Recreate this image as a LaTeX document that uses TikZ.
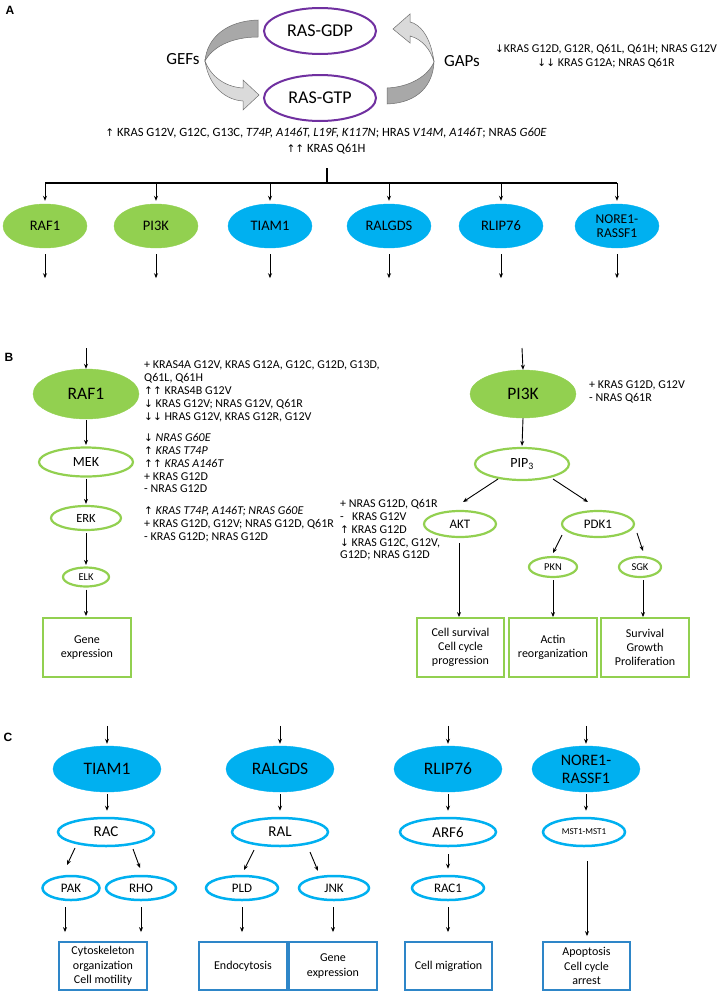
\documentclass[tikz,border=0pt]{standalone}
\usepackage{fontspec}
\setmainfont{Carlito}
\newfontfamily\symf{DejaVu Sans}
\newfontfamily\labf{Liberation Sans}
\usetikzlibrary{shapes.geometric,arrows.meta,calc}
\definecolor{rasgreen}{RGB}{146,208,80}
\definecolor{rasblue}{RGB}{0,176,240}
\definecolor{boxblue}{RGB}{46,134,200}
\definecolor{raspurple}{RGB}{112,48,160}
\definecolor{darkg}{RGB}{168,168,168}
\definecolor{lightg}{RGB}{218,218,218}
\definecolor{edgeg}{RGB}{110,110,110}
\newcommand\UA{{\symf\fontsize{10.5}{10.5}\selectfont ↑}}
\newcommand\DA{{\symf\fontsize{10.5}{10.5}\selectfont ↓}}
\begin{document}
\begin{tikzpicture}[x=1pt,y=-1pt,
  every node/.style={inner sep=0pt},
  sz/.style 2 args={minimum width=#1pt, minimum height=#2pt},
  fs/.style={font=\fontsize{#1}{#1}\selectfont},
  arr/.style={draw=black, line width=0.9pt, -{Stealth[length=5pt,width=4pt]}},
  gfill/.style={ellipse, fill=rasgreen, draw=rasgreen},
  bfill/.style={ellipse, fill=rasblue, draw=rasblue},
  gring/.style={ellipse, draw=rasgreen, line width=2.2pt, fill=white},
  bring/.style={ellipse, draw=rasblue, line width=2.5pt, fill=white},
  rasell/.style={ellipse, draw=raspurple, line width=2pt, fill=white, font=\fontsize{18}{18}\selectfont},
  gbox/.style={rectangle, draw=rasgreen, line width=1.8pt, align=center, font=\fontsize{12}{14.3}\selectfont},
  bbox/.style={rectangle, draw=boxblue, line width=1.8pt, align=center, font=\fontsize{12}{14.3}\selectfont},
  note/.style={align=left, anchor=north west, font=\fontsize{12}{12.9}\selectfont},
  seclab/.style={font=\labf\bfseries\fontsize{12}{12}\selectfont},
  curvearrow/.style={draw=edgeg, line width=0.5pt},
  tree/.style={draw=black, line width=1.1pt}
  ]
\useasboundingbox (0,0) rectangle (720,991);

% ---------------- A ----------------
\node[seclab] (labA) at (10,10) {A};
\node[rasell, sz={112}{46}] (gdp) at (320,31) {RAS-GDP};
\node[rasell, sz={112}{46}] (gtp) at (320,98) {RAS-GTP};

% left curved arrow (GEFs)
\filldraw[curvearrow, fill=darkg] (258,20) .. controls (226,21) and (207,38) .. (205,61)
   .. controls (212,48) and (230,37) .. (258,37) -- cycle;
\filldraw[curvearrow, fill=lightg] (205,61) .. controls (209,87) and (226,100) .. (243,101)
   -- (243,110) -- (259,95) -- (243,80) -- (243,88)
   .. controls (224,87) and (210,75) .. (205,61) -- cycle;
% right curved arrow (GAPs)
\filldraw[curvearrow, fill=darkg] (387,104) .. controls (418,103) and (433,85) .. (434,62)
   .. controls (428,76) and (410,87) .. (387,88) -- cycle;
\filldraw[curvearrow, fill=lightg] (434,62) .. controls (431,37) and (420,24) .. (410,22)
   -- (410,14) -- (393,29) -- (410,43) -- (410,36)
   .. controls (422,39) and (431,50) .. (434,62) -- cycle;

\node[fs=17] (gefs) at (183,59) {GEFs};
\node[fs=17] (gaps) at (462,61) {GAPs};
\node[align=center, font=\fontsize{12}{13.5}\selectfont] (gapnote) at (606,56)
  {\DA KRAS G12D, G12R, Q61L, Q61H; NRAS G12V\\\DA\DA\ KRAS G12A; NRAS Q61R};
\node[align=center, font=\fontsize{12.6}{16.5}\selectfont] (gtpnote) at (326,141)
  {\UA\ KRAS G12V, G12C, G13C, \textit{T74P, A146T, L19F, K117N}; HRAS \textit{V14M, A146T}; NRAS \textit{G60E}\\\UA\UA\ KRAS Q61H};

% tree
\coordinate (tv1) at (327,168);
\coordinate (tv2) at (327,183);
\coordinate (hl) at (45,183);
\coordinate (hr) at (617,183);
\draw[tree] (tv1) -- (tv2);
\draw[tree] (hl) -- (hr);

\node[gfill, sz={84}{44}, fs=14.5] (tRAF) at (45,226) {RAF1};
\node[gfill, sz={84}{44}, fs=14.5] (tPI) at (156,226) {PI3K};
\node[bfill, sz={84}{44}, fs=14.5] (tTI) at (270,226) {TIAM1};
\node[bfill, sz={84}{44}, fs=14.5] (tRA) at (389,226) {RALGDS};
\node[bfill, sz={84}{44}, fs=14.5] (tRL) at (501,226) {RLIP76};
\node[bfill, sz={84}{44}, align=center, font=\fontsize{13.5}{14}\selectfont] (tNO) at (617,226) {NORE1-\\RASSF1};

\foreach \n in {tRAF,tPI,tTI,tRA,tRL,tNO}{
  \draw[arr, shorten >=3pt] (\n.north |- hl) -- (\n.north);
  \draw[arr] ($(\n.south)+(0,6)$) -- ($(\n.south)+(0,30)$);
}

% ---------------- B ----------------
\node[seclab] (labB) at (9,357) {B};
\coordinate (rafin) at (86,348);
\node[gfill, sz={106}{50}, fs=17.5] (raf) at (86,394) {RAF1};
\node[gring, sz={94}{29}, fs=14] (mek) at (86,462) {MEK};
\node[gring, sz={70}{24}, fs=12.5] (erk) at (86,518) {ERK};
\node[gring, sz={46}{19}, fs=10.5] (elk) at (86,577) {ELK};
\node[gbox, sz={88}{59}] (gene1) at (87,647.5) {Gene\\expression};
\draw[arr] (rafin) -- (raf.north);
\draw[arr, shorten <=1pt, shorten >=1.5pt] (raf.south) -- (mek.north);
\draw[arr, shorten <=1pt, shorten >=1pt] (mek.south) -- (erk.north);
\draw[arr, shorten <=2pt, shorten >=1.5pt] (erk.south) -- (elk.north);
\draw[arr, shorten <=2pt, shorten >=1pt] (elk.south) -- (elk.south |- gene1.north);

\node[note] (n1) at (144,361) {+ KRAS4A G12V, KRAS G12A, G12C, G12D, G13D,\\Q61L, Q61H\\\UA\UA\ KRAS4B G12V\\\DA\ KRAS G12V; NRAS G12V, Q61R\\\DA\DA\ HRAS G12V, KRAS G12R, G12V};
\node[note] (n2) at (144,433) {\DA\ \textit{NRAS G60E}\\\UA\ \textit{KRAS T74P}\\\UA\UA\ \textit{KRAS A146T}\\+ KRAS G12D\\- NRAS G12D};
\node[note] (n3) at (144,506) {\UA\ \textit{KRAS T74P, A146T; NRAS G60E}\\+ KRAS G12D, G12V; NRAS G12D, Q61R\\- KRAS G12D; NRAS G12D};

\coordinate (pin) at (522,348);
\node[gfill, sz={106}{48}, fs=17.5] (pi3k) at (523,394) {PI3K};
\node[note] (n4) at (589,381) {+ KRAS G12D, G12V\\- NRAS Q61R};
\node[gring, sz={94}{32}, fs=14] (pip) at (522,464) {PIP\textsubscript{3}};
\node[gring, sz={72}{26}, fs=13] (akt) at (460,524) {AKT};
\node[gring, sz={72}{26}, fs=13] (pdk) at (598,524) {PDK1};
\node[gring, sz={48}{20}, fs=10.5] (pkn) at (553,567) {PKN};
\node[gring, sz={42}{20}, fs=10.5] (sgk) at (640,567) {SGK};
\node[note] (n5) at (340,499) {+ NRAS G12D, Q61R\\-\ \ \ KRAS G12V\\\UA\ KRAS G12D\\\DA\ KRAS G12C, G12V,\\G12D; NRAS G12D};
\node[gbox, sz={87}{59}] (box1) at (460.5,647.5) {Cell survival\\Cell cycle\\progression};
\node[gbox, sz={88}{59}] (box2) at (553,647.5) {Actin\\reorganization};
\node[gbox, sz={88}{59}] (box3) at (645,647.5) {Survival\\Growth\\Proliferation};

\draw[arr] (pin) -- (pi3k.north);
\draw[arr, shorten >=1pt] (pi3k.south) -- (pip.north);
\draw[arr] ($(pip.center)+(-24,15)$) -- ($(akt.center)+(3,-22)$);
\draw[arr] ($(pip.center)+(31,15)$) -- ($(pdk.center)+(-10,-22)$);
\draw[arr] ($(pdk.center)+(-36,11)$) -- ($(pkn.center)+(0,-14)$);
\draw[arr] ($(pdk.center)+(39,9)$) -- ($(sgk.center)+(3,-16)$);
\draw[arr] ($(akt.south)+(-1,5)$) -- ($(akt.south |- box1.north)+(-1,0)$);
\draw[arr] ($(pkn.south)+(0,2)$) -- (pkn.south |- box2.north);
\draw[arr] ($(sgk.south)+(3,2)$) -- ($(sgk.south |- box3.north)+(3,0)$);

% ---------------- C ----------------
\node[seclab] (labC) at (8,737) {C};
\node[bfill, sz={108}{46}, fs=17.5] (cT) at (107,769) {TIAM1};
\node[bfill, sz={108}{46}, fs=17.5] (cR) at (280,769) {RALGDS};
\node[bfill, sz={108}{46}, fs=17.5] (cL) at (448,769) {RLIP76};
\node[bfill, sz={108}{46}, align=center, font=\fontsize{16}{18}\selectfont] (cN) at (586,769) {NORE1-\\RASSF1};
\foreach \n in {cT,cR,cL,cN}{
  \coordinate (\n in) at ($(\n.north)+(0,-20)$);
  \draw[arr, shorten >=2pt] (\n in) -- (\n.north);
}
\node[bring, sz={96}{28}, fs=15] (rac) at (106,832) {RAC};
\node[bring, sz={96}{28}, fs=15] (ral) at (280,832) {RAL};
\node[bring, sz={96}{28}, fs=15] (arf) at (448,832) {ARF6};
\node[bring, sz={82}{28}, fs=9] (mst) at (584,832) {MST1-MST1};
\draw[arr, shorten <=2pt, shorten >=6pt] (cT.south) -- (cT.south |- rac.north);
\draw[arr, shorten <=2pt, shorten >=6pt] (cR.south) -- (cR.south |- ral.north);
\draw[arr, shorten <=2pt, shorten >=6pt] (cL.south) -- (cL.south |- arf.north);
\draw[arr, shorten <=2pt, shorten >=6pt] (cN.south) -- (cN.south |- mst.north);

\node[bring, sz={57}{24}, fs=13] (pak) at (71,888) {PAK};
\node[bring, sz={70}{24}, fs=13] (rho) at (141,888) {RHO};
\node[bring, sz={72}{24}, fs=13] (pld) at (242,888) {PLD};
\node[bring, sz={70}{24}, fs=13] (jnk) at (334,888) {JNK};
\node[bring, sz={72}{24}, fs=13] (rac1) at (448,888) {RAC1};
\draw[arr] ($(rac.center)+(-31,16)$) -- ($(pak.center)+(-4,-23)$);
\draw[arr] ($(rac.center)+(27,17)$) -- ($(rho.center)+(-1,-20)$);
\draw[arr] ($(ral.center)+(-26,18)$) -- ($(pld.center)+(2,-18)$);
\draw[arr] ($(ral.center)+(30,20)$) -- ($(jnk.center)+(-16,-17)$);
\draw[arr, shorten <=7pt, shorten >=6pt] (arf.south) -- (rac1.north);

\node[bbox, sz={88}{48}] (bx1) at (103,966) {Cytoskeleton\\organization\\Cell motility};
\node[bbox, sz={88}{48}] (bx2) at (243,966) {Endocytosis};
\node[bbox, sz={88}{48}] (bx3) at (333,966) {Gene\\expression};
\node[bbox, sz={87}{48}] (bx4) at (448.5,966) {Cell migration};
\node[bbox, sz={87}{48}] (bx5) at (586.5,966) {Apoptosis\\Cell cycle\\arrest};

\draw[arr, shorten <=6pt, shorten >=9pt] ($(pak.south)+(-6,0)$) -- ($(pak.south |- bx1.north)+(-6,0)$);
\draw[arr, shorten <=6pt, shorten >=9pt] (rho.south) -- (rho.south |- bx1.north);
\draw[arr, shorten <=6pt, shorten >=9pt] (pld.south) -- (pld.south |- bx2.north);
\draw[arr, shorten <=6pt, shorten >=9pt] ($(jnk.south)+(-1,0)$) -- ($(jnk.south |- bx3.north)+(-1,0)$);
\draw[arr, shorten <=6pt, shorten >=9pt] (rac1.south) -- (rac1.south |- bx4.north);
\draw[arr, shorten <=14pt, shorten >=5pt] ($(mst.south)+(3,0)$) -- ($(mst.south |- bx5.north)+(3,0)$);
\end{tikzpicture}
\end{document}
